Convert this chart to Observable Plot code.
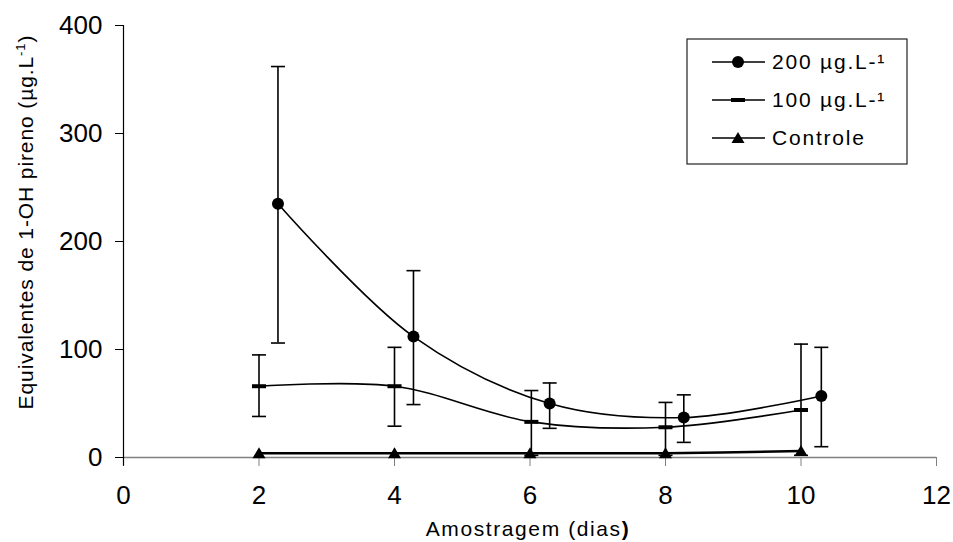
<!DOCTYPE html>
<html><head><meta charset="utf-8">
<script src="https://cdn.jsdelivr.net/npm/d3@7"></script>
<script src="https://cdn.jsdelivr.net/npm/@observablehq/plot@0.6"></script>
<style>body{margin:0;background:#fff;font-family:Arial,"Liberation Sans",sans-serif}</style>
</head><body><div id="chart"></div>
<script>
// Data
const x200 = [2.28, 4.28, 6.29, 8.27, 10.3];
const y200 = [235, 112, 50, 37, 57];
const lo200 = [106, 49, 27, 14, 10];
const hi200 = [362, 173, 69, 58, 102];

const x100 = [2, 4, 6.02, 8, 10];
const y100 = [66, 66, 33, 28, 44];
const lo100 = [38, 29, 2, 2, 2];
const hi100 = [95, 102, 62, 51, 105];

const xCtrl = [2, 4, 6, 8, 10];
const yCtrl = [4, 4, 4, 4, 6];

const xTicks = [0, 2, 4, 6, 8, 10, 12];
const yTicks = [0, 100, 200, 300, 400];
const seriesNames = ["200 µg.L-¹", "100 µg.L-¹", "Controle"];

const s200 = x200.map((x, i) => ({x, y: y200[i], lo: lo200[i], hi: hi200[i]}));
const s100 = x100.map((x, i) => ({x, y: y100[i], lo: lo100[i], hi: hi100[i]}));
const sCtrl = xCtrl.map((x, i) => ({x, y: yCtrl[i]}));

const capSym = {draw(c) { c.moveTo(-7, 0); c.lineTo(7, 0); }};
const dashSym = {draw(c) { c.rect(-7, -2, 14, 4); }};
const triSym = {draw(c) { c.moveTo(0, -6); c.lineTo(6.5, 5); c.lineTo(-6.5, 5); c.closePath(); }};
const circSym = {draw(c) { c.moveTo(6, 0); c.arc(0, 0, 6, 0, 2 * Math.PI); }};

const errMarks = (s) => [
  Plot.ruleX(s, {x: "x", y1: "lo", y2: "hi", stroke: "black", strokeWidth: 1.6}),
  Plot.dot(s, {x: "x", y: "lo", symbol: capSym, fill: "none", stroke: "black", strokeWidth: 1.6}),
  Plot.dot(s, {x: "x", y: "hi", symbol: capSym, fill: "none", stroke: "black", strokeWidth: 1.6})
];

const svg = Plot.plot({
  width: 953,
  height: 542,
  marginLeft: 123,
  marginRight: 17,
  marginTop: 25,
  marginBottom: 85,
  style: {fontFamily: "Arial, 'Liberation Sans', sans-serif", background: "white", overflow: "visible"},
  x: {domain: [0, 12]},
  y: {domain: [0, 400]},
  marks: [
    Plot.ruleY([0], {stroke: "#808080", strokeWidth: 1.5}),
    Plot.axisX({ticks: xTicks, tickSize: 9, tickPadding: 19, fontSize: 26, stroke: "#808080", fill: "black", label: null, style: {letterSpacing: "1.5px"}}),
    Plot.axisY({ticks: yTicks, tickSize: 8, tickPadding: 13, fontSize: 26, stroke: "black", fill: "black", label: null, style: {letterSpacing: "2px"}}),
    Plot.ruleX([0], {y1: -8, y2: 400, stroke: "black", strokeWidth: 1.2}),
    Plot.line(sCtrl, {x: "x", y: "y", curve: "catmull-rom", stroke: "black", strokeWidth: 2.6}),
    Plot.line(s100, {x: "x", y: "y", curve: "catmull-rom", stroke: "black", strokeWidth: 1.6}),
    Plot.line(s200, {x: "x", y: "y", curve: "catmull-rom", stroke: "black", strokeWidth: 1.6}),
    ...errMarks(s100),
    ...errMarks(s200),
    Plot.dot(sCtrl, {x: "x", y: "y", symbol: triSym, fill: "black", stroke: "none"}),
    Plot.dot(s100, {x: "x", y: "y", symbol: dashSym, fill: "black", stroke: "none"}),
    Plot.dot(s200, {x: "x", y: "y", symbol: circSym, fill: "black", stroke: "none"})
  ]
});

const g = d3.select(svg);
// Axis titles
g.append("text")
  .attr("x", 528).attr("y", 536)
  .attr("text-anchor", "middle")
  .attr("font-size", 21).style("letter-spacing", "1.6px")
  .attr("fill", "black")
  .call(t => { t.append("tspan").text("Amostragem (dias"); t.append("tspan").attr("font-weight", "bold").text(")"); });

g.append("text")
  .attr("transform", "translate(33,222) rotate(-90)")
  .attr("text-anchor", "middle")
  .attr("font-size", 21).style("letter-spacing", "0.9px")
  .attr("fill", "black")
  .call(t => {
    t.append("tspan").text("Equivalentes de 1-OH pireno (µg.L");
    t.append("tspan").attr("font-size", 13).attr("dy", -8).text("-1");
    t.append("tspan").attr("dy", 8).text(")");
  });

// Legend
const lg = g.append("g").attr("text-anchor", "start");
lg.append("rect").attr("x", 687).attr("y", 39).attr("width", 220).attr("height", 125)
  .attr("fill", "white").attr("stroke", "#222").attr("stroke-width", 1.2);
const rows = [62, 100, 138];
const syms = [circSym, dashSym, triSym];
seriesNames.forEach((name, i) => {
  const y = rows[i];
  lg.append("line").attr("x1", 712).attr("x2", 765).attr("y1", y).attr("y2", y).attr("stroke", "black").attr("stroke-width", 1.6);
  const p = d3.path(); syms[i].draw(p);
  lg.append("path").attr("d", p.toString()).attr("transform", `translate(738,${y})`).attr("fill", "black");
  lg.append("text").attr("x", 772).attr("y", y).attr("dy", "0.35em").attr("text-anchor", "start")
    .attr("font-size", 21).style("letter-spacing", "1.8px").attr("fill", "black").text(name);
});

document.getElementById("chart").appendChild(svg);
</script>
</body></html>
